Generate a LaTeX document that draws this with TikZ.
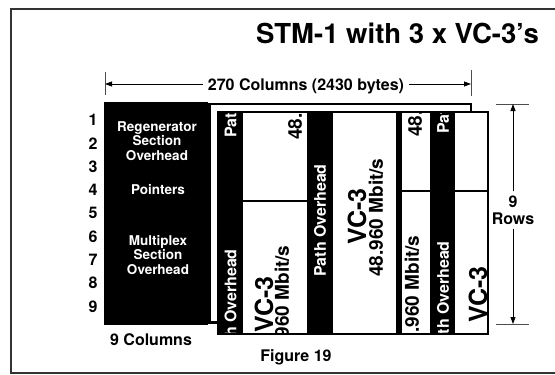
\documentclass[tikz,border=0pt]{standalone}
\usepackage{fontspec}
\setmainfont{TeX Gyre Heros}
\usetikzlibrary{arrows.meta}
\tikzset{
  lbl/.style={inner sep=0pt, font=\fontsize{16}{19}\selectfont\bfseries},
  soh/.style={inner sep=0pt, align=center, text=white, font=\fontsize{13.5}{14.5}\selectfont\bfseries},
  rtxt/.style={rotate=90, anchor=west, inner sep=0pt, text depth=0pt},
  poh/.style={rtxt, text=white, text height=11.5pt, font=\fontsize{16}{16}\selectfont\bfseries},
  rate/.style={rtxt, text height=13.7pt, font=\fontsize{19}{19}\selectfont\bfseries},
  vcname/.style={rtxt, text height=18pt, font=\fontsize{25}{25}\selectfont\bfseries},
  tip/.style={-{Triangle[length=7pt,width=5pt]}},
  dimline/.style={line width=0.8pt},
  tick/.style={line width=0.8pt, draw=black!70},
  blk/.style={fill=black},
  bord/.style={line width=2.5pt},
}
\begin{document}
\begin{tikzpicture}[x=1pt,y=-1pt]
\useasboundingbox (0,0) rectangle (555,375);
\clip (0,0) rectangle (555,375);
% outer frame
\draw[line width=2pt, draw=black!80] (11,9) rectangle (620,373);
% title
\node[lbl, font=\fontsize{27.5}{27.5}\selectfont\bfseries, anchor=base east] (title) at (539,43) {STM-1 with 3 x VC-3’s};
% horizontal dimension
\coordinate (dlt) at (105,72); \coordinate (dlb) at (105,95);
\coordinate (drt) at (471,70); \coordinate (drb) at (471,96);
\coordinate (dl) at (105,84); \coordinate (dr) at (471,84);
\draw[tick] (dlt) -- (dlb);
\draw[tick] (drt) -- (drb);
\draw[dimline, {Triangle[length=7pt,width=5pt]}-{Triangle[length=7pt,width=5pt]}] (dl) -- (dr);
\node[lbl, fill=white, inner xsep=5pt, inner ysep=2pt, anchor=base] (collab) at (306,90) {270 Columns (2430 bytes)};
% STM frame
\draw[bord, fill=white] (209.5,104) rectangle (471,322.5);
% section overhead block
\fill[blk] (104,102) rectangle (208,325);
\node[soh] (rsoh) at (157,141) {Regenerator\\Section\\Overhead};
\node[soh] (ptr) at (158,190) {Pointers};
\node[soh] (msoh) at (158,255) {Multiplex\\Section\\Overhead};
% row numbers
\foreach \i in {1,...,9} {
  \node[lbl, text height=11.5pt, text depth=0pt] (row\i) at (93,{120+23.3*(\i-1)}) {\i};
}
\node[lbl] (ninecol) at (151,340) {9 Columns};
\node[lbl] (fig) at (296,357) {Figure 19};
% rows dimension
\coordinate (rt) at (513,104); \coordinate (rb) at (513,324);
\coordinate (rtl) at (496,104); \coordinate (rtr) at (529,104);
\coordinate (rbl) at (496,324); \coordinate (rbr) at (529,324);
\draw[tick] (rtl) -- (rtr);
\draw[tick] (rbl) -- (rbr);
\node[lbl, align=center, font=\fontsize{16}{17}\selectfont\bfseries, inner sep=4pt] (rowslab) at (513,210) {9\\Rows};
\draw[dimline, tip] (rowslab.north) -- (rt);
\draw[dimline, tip] (rowslab.south) -- (rb);
% VC-3 panel
\fill[white] (218,112) rectangle (488,334);
\fill[blk] (218,112) rectangle (243,334);
\fill[blk] (307,112) rectangle (333,334);
\fill[blk] (396,112) rectangle (402,334);
\fill[blk] (430,112) rectangle (455,334);
\draw[line width=2pt] (243,201) -- (307,201);
\draw[line width=2pt] (402,191) -- (430,191);
\draw[line width=2pt] (455,191) -- (488,191);
% strip A
\begin{scope}
\clip (218,112) rectangle (243,334);
\node[poh] (pohA1) at (230.5,138) {Path Overhead};
\node[poh] (pohA2) at (230.5,362) {Path Overhead};
\end{scope}
% white 1
\begin{scope}
\clip (243,112) rectangle (307,201);
\node[rate] (rate1a) at (295,140) {48.960 Mbit/s};
\end{scope}
\begin{scope}
\clip (243,201) rectangle (307,334);
\node[rate] (rate1b) at (282,364) {48.960 Mbit/s};
\node[vcname] (vc1b) at (264,333) {VC-3};
\end{scope}
% strip B and white 2
\node[poh] (pohB) at (320,277) {Path Overhead};
\node[vcname] (vc2) at (357,245) {VC-3};
\node[rate] (rate2) at (376,277) {48.960 Mbit/s};
% white 3
\begin{scope}
\clip (402,112) rectangle (430,191);
\node[rate] (rate3a) at (415,137) {48.960 Mbit/s};
\end{scope}
\begin{scope}
\clip (402,191) rectangle (430,334);
\node[rate] (rate3b) at (412,354) {48.960 Mbit/s};
\end{scope}
% strip D
\begin{scope}
\clip (430,112) rectangle (455,334);
\node[poh] (pohD1) at (443,134) {Path Overhead};
\node[poh] (pohD2) at (443,354) {Path Overhead};
\end{scope}
% white 4
\begin{scope}
\clip (455,191) rectangle (488,334);
\node[vcname] (vc4) at (478,323) {VC-3};
\end{scope}
\draw[bord] (218,112) rectangle (488,334);
\end{tikzpicture}
\end{document}
